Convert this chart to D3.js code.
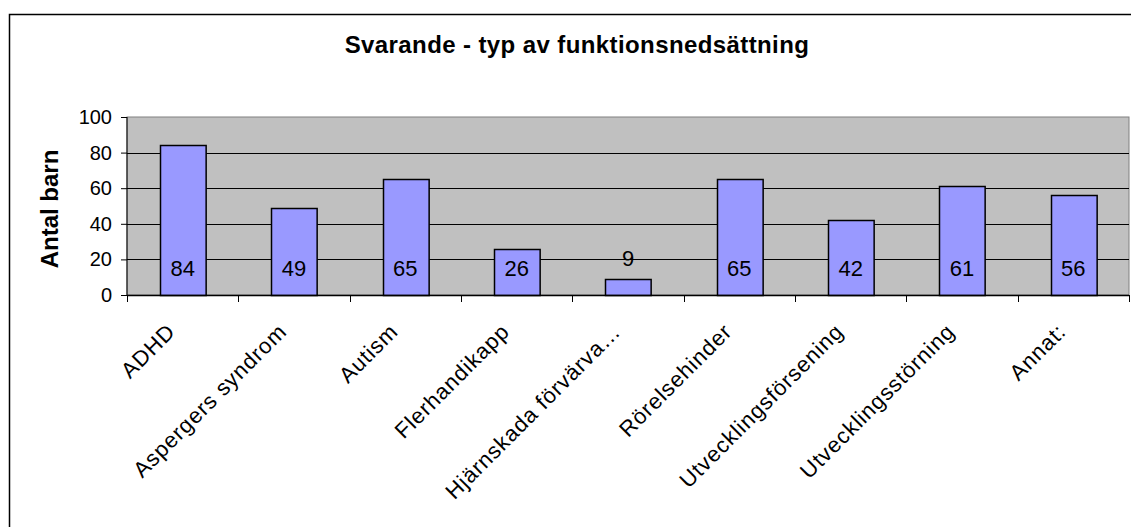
<!DOCTYPE html>
<html>
<head>
<meta charset="utf-8">
<script src="https://cdn.jsdelivr.net/npm/d3@7"></script>
<style>
  body { margin: 0; background: #fff; }
  text { font-family: "Liberation Sans", Arial, sans-serif; }
</style>
</head>
<body>
<script>
// data
var categories = ["ADHD", "Aspergers syndrom", "Autism", "Flerhandikapp", "Hjärnskada förvärva…",
    "Rörelsehinder", "Utvecklingsförsening", "Utvecklingsstörning", "Annat:"];
var values = [84, 49, 65, 26, 9, 65, 42, 61, 56];
var yTicks = [0, 20, 40, 60, 80, 100];

var w = 1131, h = 527;
var plot = {left: 127, right: 1129, top: 117, bottom: 295};

var svg = d3.select("body").append("svg")
    .attr("width", w)
    .attr("height", h);

// outer chart frame
svg.append("rect")
    .attr("x", 9.5).attr("y", 14.5)
    .attr("width", w + 10).attr("height", h + 10)
    .attr("fill", "#fff")
    .attr("stroke", "#000")
    .attr("stroke-width", 1.5);

var xScale = d3.scaleBand()
    .domain(categories)
    .range([plot.left, plot.right])
    .paddingInner(0.59)
    .paddingOuter(0.295);

var yScale = d3.scaleLinear()
    .domain([0, 100])
    .range([plot.bottom, plot.top]);

// plot area
svg.append("rect")
    .attr("x", plot.left).attr("y", plot.top)
    .attr("width", plot.right - plot.left).attr("height", plot.bottom - plot.top)
    .attr("fill", "#c0c0c0")
    .attr("stroke", "#808080");

// gridlines
svg.append("g")
    .selectAll("line")
    .data(yTicks.filter(function (d) { return d > 0 && d < 100; }))
    .join("line")
    .attr("x1", plot.left).attr("x2", plot.right)
    .attr("y1", function (d) { return Math.round(yScale(d)) + 0.5; })
    .attr("y2", function (d) { return Math.round(yScale(d)) + 0.5; })
    .attr("stroke", "#000");

// bars
svg.append("g")
    .selectAll("rect")
    .data(values)
    .join("rect")
    .attr("x", function (d, i) { return Math.round(xScale(categories[i])) + 0.5; })
    .attr("y", function (d) { return Math.round(yScale(d)) + 0.5; })
    .attr("width", xScale.bandwidth())
    .attr("height", function (d) { return Math.round(yScale(0)) - Math.round(yScale(d)); })
    .attr("fill", "#9999ff")
    .attr("stroke", "#000")
    .attr("stroke-width", 1.5);

// value labels (inside base, or above if bar is too short)
svg.append("g")
    .selectAll("text")
    .data(values)
    .join("text")
    .attr("x", function (d, i) { return xScale(categories[i]) + xScale.bandwidth() / 2; })
    .attr("y", function (d) { return d < 15 ? yScale(d) - 20 : yScale(0) - 27; })
    .attr("text-anchor", "middle")
    .attr("dominant-baseline", "central")
    .attr("font-size", "22px")
    .attr("fill", "#000")
    .text(function (d) { return d; });

// y axis
var yAxis = svg.append("g")
    .attr("transform", "translate(" + plot.left + ",0)")
    .call(d3.axisLeft(yScale).tickValues(yTicks).tickSize(6).tickPadding(9));
yAxis.select(".domain").attr("stroke", "#000").attr("d", "M0," + plot.top + "V" + plot.bottom);
yAxis.selectAll("text").attr("font-size", "20px").attr("font-family", "Liberation Sans, Arial");

// x axis
var bounds = d3.range(categories.length + 1).map(function (i) {
    return plot.left + i * (plot.right - plot.left) / categories.length;
});
svg.append("line")
    .attr("x1", plot.left).attr("x2", plot.right)
    .attr("y1", plot.bottom + 0.5).attr("y2", plot.bottom + 0.5)
    .attr("stroke", "#000").attr("stroke-width", 1.5);
svg.append("g")
    .selectAll("line")
    .data(bounds)
    .join("line")
    .attr("x1", function (d) { return Math.round(d) + 0.5; })
    .attr("x2", function (d) { return Math.round(d) + 0.5; })
    .attr("y1", plot.bottom).attr("y2", plot.bottom + 7)
    .attr("stroke", "#000");

svg.append("g")
    .selectAll("text")
    .data(categories)
    .join("text")
    .attr("transform", function (d) {
        var cx = xScale(d) + xScale.bandwidth() / 2;
        return "translate(" + (cx - 6) + "," + (plot.bottom + 38) + ") rotate(-45)";
    })
    .attr("text-anchor", "end")
    .attr("font-size", "22px")
    .attr("letter-spacing", "0.9px")
    .attr("fill", "#000")
    .text(function (d) { return d; });

// titles
svg.append("text")
    .attr("x", 577).attr("y", 53)
    .attr("text-anchor", "middle")
    .attr("font-size", "24px")
    .attr("font-weight", "bold")
    .attr("letter-spacing", "0.4px")
    .text("Svarande - typ av funktionsnedsättning");

svg.append("text")
    .attr("transform", "translate(58,209) rotate(-90)")
    .attr("text-anchor", "middle")
    .attr("font-size", "24px")
    .attr("font-weight", "bold")
    .text("Antal barn");
</script>
</body>
</html>
